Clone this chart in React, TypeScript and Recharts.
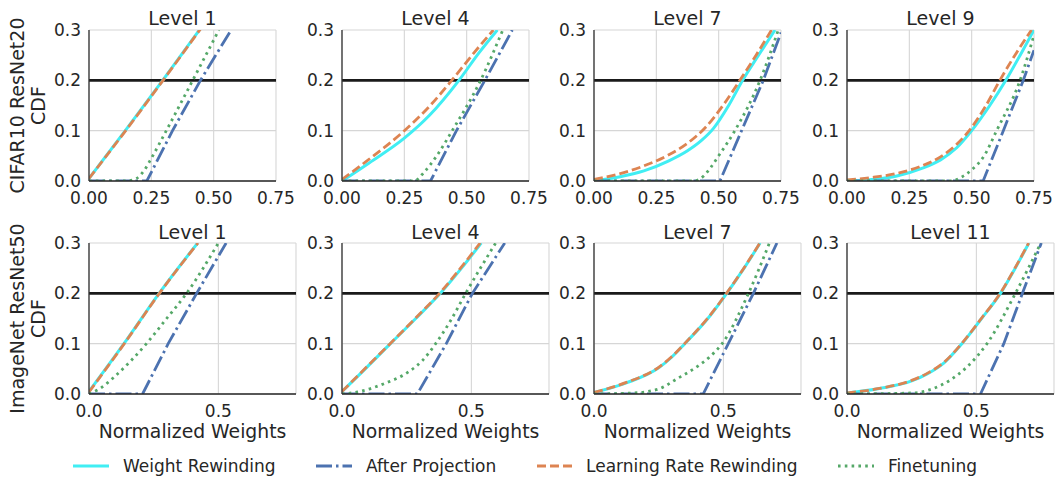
import { LineChart, Line, XAxis, YAxis, CartesianGrid, ReferenceLine } from "recharts";

type Pt = [number, number];

// CIFAR10 ResNet20
const cifarL1Wr: Pt[] = [[0, 0.005], [0.15, 0.103], [0.3, 0.203], [0.45, 0.305]];
const cifarL1Ap: Pt[] = [[0, 0], [0.232, 0], [0.335, 0.1], [0.447, 0.2], [0.57, 0.3]];
const cifarL1Lrr: Pt[] = [[0, 0.005], [0.15, 0.102], [0.3, 0.202], [0.45, 0.304]];
const cifarL1Ft: Pt[] = [[0, 0], [0.15, 0], [0.19, 0.005], [0.22, 0.02], [0.25, 0.045], [0.31, 0.1], [0.416, 0.2], [0.521, 0.3]];

const cifarL4Wr: Pt[] = [[0, 0], [0.1, 0.033], [0.25, 0.085], [0.35, 0.13], [0.469, 0.2], [0.55, 0.255], [0.623, 0.3]];
const cifarL4Ap: Pt[] = [[0, 0], [0.355, 0], [0.459, 0.1], [0.573, 0.2], [0.683, 0.3]];
const cifarL4Lrr: Pt[] = [[0, 0.003], [0.1, 0.04], [0.25, 0.1], [0.35, 0.148], [0.44, 0.2], [0.53, 0.255], [0.607, 0.3]];
const cifarL4Ft: Pt[] = [[0, 0], [0.29, 0], [0.33, 0.018], [0.38, 0.05], [0.442, 0.1], [0.556, 0.2], [0.645, 0.3]];

const cifarL7Wr: Pt[] = [[0, 0], [0.1, 0.008], [0.2, 0.02], [0.3, 0.04], [0.375, 0.06], [0.43, 0.08], [0.48, 0.105], [0.54, 0.15], [0.596, 0.2], [0.66, 0.25], [0.726, 0.3]];
const cifarL7Ap: Pt[] = [[0, 0], [0.505, 0], [0.592, 0.1], [0.679, 0.2], [0.75, 0.295]];
const cifarL7Lrr: Pt[] = [[0, 0.003], [0.1, 0.014], [0.2, 0.03], [0.3, 0.052], [0.375, 0.075], [0.45, 0.108], [0.52, 0.152], [0.585, 0.2], [0.65, 0.25], [0.712, 0.3]];
const cifarL7Ft: Pt[] = [[0, 0], [0.4, 0], [0.44, 0.01], [0.47, 0.028], [0.5, 0.05], [0.565, 0.1], [0.666, 0.2], [0.739, 0.3]];

const cifarL9Wr: Pt[] = [[0, 0], [0.1, 0.003], [0.2, 0.01], [0.3, 0.025], [0.375, 0.042], [0.44, 0.066], [0.5, 0.1], [0.57, 0.148], [0.637, 0.2], [0.7, 0.255], [0.75, 0.3]];
const cifarL9Ap: Pt[] = [[0, 0], [0.546, 0], [0.627, 0.1], [0.707, 0.2], [0.75, 0.26]];
const cifarL9Lrr: Pt[] = [[0, 0.002], [0.1, 0.007], [0.2, 0.015], [0.3, 0.03], [0.375, 0.048], [0.44, 0.073], [0.49, 0.1], [0.555, 0.148], [0.613, 0.2], [0.68, 0.255], [0.74, 0.3]];
const cifarL9Ft: Pt[] = [[0, 0], [0.42, 0], [0.46, 0.008], [0.5, 0.022], [0.55, 0.05], [0.6, 0.1], [0.694, 0.2], [0.75, 0.29]];

// ImageNet ResNet50
const imnetL1Wr: Pt[] = [[0, 0.005], [0.135, 0.1], [0.271, 0.2], [0.42, 0.3]];
const imnetL1Ap: Pt[] = [[0, 0], [0.207, 0], [0.306, 0.1], [0.416, 0.2], [0.53, 0.3]];
const imnetL1Lrr: Pt[] = [[0, 0.004], [0.135, 0.099], [0.272, 0.2], [0.421, 0.3]];
const imnetL1Ft: Pt[] = [[0, 0], [0.04, 0.01], [0.1, 0.035], [0.16, 0.065], [0.222, 0.1], [0.3, 0.15], [0.377, 0.2], [0.5, 0.3]];

const imnetL4Wr: Pt[] = [[0, 0.005], [0.09, 0.05], [0.187, 0.1], [0.285, 0.15], [0.38, 0.2], [0.462, 0.25], [0.538, 0.3]];
const imnetL4Ap: Pt[] = [[0, 0], [0.291, 0], [0.403, 0.1], [0.504, 0.2], [0.629, 0.3]];
const imnetL4Lrr: Pt[] = [[0, 0.005], [0.09, 0.051], [0.186, 0.1], [0.283, 0.15], [0.377, 0.2], [0.458, 0.25], [0.534, 0.3]];
const imnetL4Ft: Pt[] = [[0, 0], [0.06, 0.004], [0.16, 0.02], [0.26, 0.045], [0.31, 0.066], [0.362, 0.1], [0.42, 0.146], [0.478, 0.2], [0.594, 0.3]];

const imnetL7Wr: Pt[] = [[0, 0.003], [0.125, 0.022], [0.25, 0.052], [0.3, 0.073], [0.351, 0.1], [0.44, 0.15], [0.513, 0.2], [0.58, 0.25], [0.642, 0.3]];
const imnetL7Ap: Pt[] = [[0, 0], [0.422, 0], [0.519, 0.1], [0.616, 0.2], [0.707, 0.3]];
const imnetL7Lrr: Pt[] = [[0, 0.003], [0.125, 0.023], [0.25, 0.053], [0.3, 0.074], [0.35, 0.1], [0.44, 0.151], [0.512, 0.2], [0.579, 0.25], [0.641, 0.3]];
const imnetL7Ft: Pt[] = [[0, 0], [0.15, 0.002], [0.25, 0.01], [0.32, 0.03], [0.4, 0.055], [0.45, 0.075], [0.495, 0.1], [0.597, 0.2], [0.678, 0.3]];

const imnetL11Wr: Pt[] = [[0, 0.002], [0.125, 0.011], [0.25, 0.026], [0.31, 0.04], [0.375, 0.062], [0.444, 0.1], [0.52, 0.15], [0.593, 0.2], [0.65, 0.25], [0.703, 0.3]];
const imnetL11Ap: Pt[] = [[0, 0], [0.516, 0], [0.606, 0.1], [0.678, 0.2], [0.751, 0.3]];
const imnetL11Lrr: Pt[] = [[0, 0.002], [0.125, 0.011], [0.25, 0.027], [0.31, 0.041], [0.375, 0.063], [0.443, 0.1], [0.519, 0.15], [0.592, 0.2], [0.649, 0.25], [0.702, 0.3]];
const imnetL11Ft: Pt[] = [[0, 0], [0.25, 0.002], [0.334, 0.011], [0.4, 0.028], [0.464, 0.054], [0.541, 0.1], [0.651, 0.2], [0.749, 0.3]];

const cifarTitles = ["Level 1", "Level 4", "Level 7", "Level 9"];
const imnetTitles = ["Level 1", "Level 4", "Level 7", "Level 11"];
const topXTicks = [0, 0.25, 0.5, 0.75];
const bottomXTicks = [0, 0.5];
const yTicks = [0, 0.1, 0.2, 0.3];
const threshold = 0.2;

const SERIES = [
  { key: "wr", name: "Weight Rewinding", color: "#40eef3", dash: undefined, curve: "monotone", width: 3 },
  { key: "ap", name: "After Projection", color: "#4c72b0", dash: "16 4 2.5 4", curve: "linear", width: 2.8 },
  { key: "lrr", name: "Learning Rate Rewinding", color: "#dd8452", dash: "9 4", curve: "monotone", width: 2.8 },
  { key: "ft", name: "Finetuning", color: "#55a868", dash: "2.6 4.2", curve: "monotone", width: 2.8 },
] as const;

const cifarPanels = [
  { wr: cifarL1Wr, ap: cifarL1Ap, lrr: cifarL1Lrr, ft: cifarL1Ft },
  { wr: cifarL4Wr, ap: cifarL4Ap, lrr: cifarL4Lrr, ft: cifarL4Ft },
  { wr: cifarL7Wr, ap: cifarL7Ap, lrr: cifarL7Lrr, ft: cifarL7Ft },
  { wr: cifarL9Wr, ap: cifarL9Ap, lrr: cifarL9Lrr, ft: cifarL9Ft },
];
const imnetPanels = [
  { wr: imnetL1Wr, ap: imnetL1Ap, lrr: imnetL1Lrr, ft: imnetL1Ft },
  { wr: imnetL4Wr, ap: imnetL4Ap, lrr: imnetL4Lrr, ft: imnetL4Ft },
  { wr: imnetL7Wr, ap: imnetL7Ap, lrr: imnetL7Lrr, ft: imnetL7Ft },
  { wr: imnetL11Wr, ap: imnetL11Ap, lrr: imnetL11Lrr, ft: imnetL11Ft },
];

const FONT = "DejaVu Sans, sans-serif";
const TEXT = "#262626";
const PLOT_LEFTS = [89, 342, 594, 847];
const Y_AXIS_W = 50;
const PAD_T = 14;
const PAD_R = 24;
const PLOT_H = 151;

function toObj(pts: Pt[]) {
  return pts.map(([x, y]) => ({ x, y }));
}

function Panel({ data, left, top, width, domain, ticks, digits }: any) {
  const tickStyle = { fontSize: 17, fill: TEXT, fontFamily: FONT };
  return (
    <div style={{ position: "absolute", left: left - Y_AXIS_W, top: top - PAD_T }}>
      <LineChart
        width={width + Y_AXIS_W + PAD_R}
        height={PLOT_H + PAD_T + 30}
        margin={{ top: PAD_T, right: PAD_R, bottom: 0, left: 0 }}
        style={{ overflow: "visible" }}
      >
        <CartesianGrid stroke="#d6d6d6" strokeWidth={1.1} />
        <XAxis
          type="number"
          dataKey="x"
          domain={domain}
          ticks={ticks}
          interval={0}
          allowDataOverflow
          height={30}
          tickLine={false}
          tickMargin={5}
          tick={tickStyle}
          tickFormatter={(v: number) => v.toFixed(digits)}
          axisLine={{ stroke: "#262626", strokeWidth: 1.3 }}
        />
        <YAxis
          type="number"
          domain={[0, 0.3]}
          ticks={yTicks}
          interval={0}
          allowDataOverflow
          width={Y_AXIS_W}
          tickLine={false}
          tick={tickStyle}
          tickFormatter={(v: number) => v.toFixed(1)}
          axisLine={{ stroke: "#333333", strokeWidth: 1.3 }}
        />
        <ReferenceLine y={threshold} stroke="#1a1a1a" strokeWidth={2.6} />
        {SERIES.map((s) => (
          <Line
            key={s.key}
            data={toObj(data[s.key])}
            dataKey="y"
            type={s.curve}
            stroke={s.color}
            strokeWidth={s.width}
            strokeDasharray={s.dash}
            strokeLinecap="butt"
            dot={false}
            activeDot={false}
            isAnimationActive={false}
          />
        ))}
      </LineChart>
    </div>
  );
}

const legendItems = [
  { x: 73, tx: 123 },
  { x: 316, tx: 366 },
  { x: 537, tx: 586 },
  { x: 838, tx: 888 },
];

export default function App() {
  return (
    <div style={{ position: "absolute", left: 0, top: 0, width: 1056, height: 477, background: "#fff", fontFamily: FONT, overflow: "hidden" }}>
      {cifarPanels.map((p, i) => (
        <Panel key={"c" + i} data={p} left={PLOT_LEFTS[i]} top={30} width={187} domain={[0, 0.75]} ticks={topXTicks} digits={2} />
      ))}
      {imnetPanels.map((p, i) => (
        <Panel key={"m" + i} data={p} left={PLOT_LEFTS[i]} top={243} width={207} domain={[0, 0.8]} ticks={bottomXTicks} digits={1} />
      ))}
      <svg width={1056} height={477} style={{ position: "absolute", left: 0, top: 0, pointerEvents: "none" }}>
        <g fontFamily={FONT} fill={TEXT}>
          {cifarTitles.map((t, i) => (
            <text key={"ct" + i} x={PLOT_LEFTS[i] + 187 / 2} y={25} textAnchor="middle" fontSize={19}>{t}</text>
          ))}
          {imnetTitles.map((t, i) => (
            <text key={"mt" + i} x={PLOT_LEFTS[i] + 207 / 2} y={238.5} textAnchor="middle" fontSize={19}>{t}</text>
          ))}
          {PLOT_LEFTS.map((l, i) => (
            <text key={"xl" + i} x={l + 207 / 2} y={438} textAnchor="middle" fontSize={18.8}>Normalized Weights</text>
          ))}
          <text transform="translate(23.5,105.5) rotate(-90)" textAnchor="middle" fontSize={19}>CIFAR10 ResNet20</text>
          <text transform="translate(45,105.5) rotate(-90)" textAnchor="middle" fontSize={19}>CDF</text>
          <text transform="translate(23.5,318.5) rotate(-90)" textAnchor="middle" fontSize={19}>ImageNet ResNet50</text>
          <text transform="translate(45,318.5) rotate(-90)" textAnchor="middle" fontSize={19}>CDF</text>
          {SERIES.map((s, i) => (
            <g key={"lg" + s.key}>
              <line
                x1={legendItems[i].x}
                x2={legendItems[i].x + 36}
                y1={466}
                y2={466}
                stroke={s.color}
                strokeWidth={s.width}
                strokeDasharray={s.dash}
              />
              <text x={legendItems[i].tx} y={472} fontSize={17}>{s.name}</text>
            </g>
          ))}
        </g>
      </svg>
    </div>
  );
}
